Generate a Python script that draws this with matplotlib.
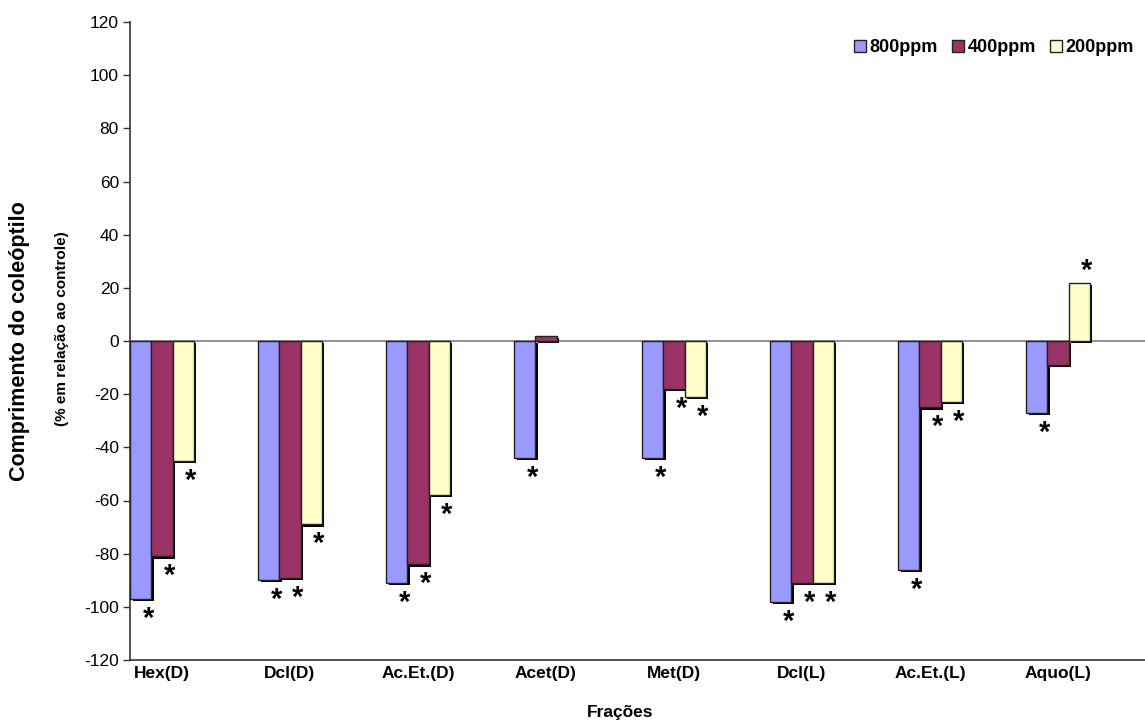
import matplotlib
matplotlib.use("Agg")
import matplotlib.pyplot as plt
import matplotlib.patheffects as pe
import numpy as np

categories = ["Hex(D)", "Dcl(D)", "Ac.Et.(D)", "Acet(D)", "Met(D)", "Dcl(L)", "Ac.Et.(L)", "Aquo(L)"]
series_names = ["800ppm", "400ppm", "200ppm"]
v800 = [-97, -90, -91, -44, -44, -98, -86, -27]
v400 = [-81, -89, -84, 2, -18, -91, -25, -9]
v200 = [-45, -69, -58, None, -21, -91, -23, 22]
sig800 = [1, 1, 1, 1, 1, 1, 1, 1]
sig400 = [1, 1, 1, 0, 1, 1, 1, 0]
sig200 = [1, 1, 1, 0, 1, 1, 1, 1]
yticks = list(range(-120, 121, 20))

colors = ["#9999FF", "#993366", "#FFFFCC"]

plt.rcParams['font.family'] = ['Liberation Sans', 'DejaVu Sans']

fig = plt.figure(figsize=(11.45, 7.22), dpi=100)
ax = fig.add_axes([130/1145, 1-660/722, 1-130/1145, (660-22)/722])

x = np.arange(len(categories))
w = 0.165
shadow = [pe.SimplePatchShadow(offset=(1.6, -1.6), shadow_rgbFace='black', alpha=1.0), pe.Normal()]
allvals = [v800, v400, v200]
allsig = [sig800, sig400, sig200]
for i, (vals, sig) in enumerate(zip(allvals, allsig)):
    xs = x + (i - 1) * w
    h = [np.nan if v is None else v for v in vals]
    bars = ax.bar(xs, h, width=w, color=colors[i], edgecolor="#222222", linewidth=1.0,
                  label=series_names[i], zorder=3)
    for b in bars:
        b.set_path_effects(shadow)
    for xx, v, s in zip(xs, vals, sig):
        if s and v is not None:
            yy = v - 7.5 if v < 0 else v + 4.5
            ax.text(xx + 0.06, yy, "*", ha="center", va="center", fontsize=21,
                    fontweight="bold", zorder=4)

ax.axhline(0, color="#808080", linewidth=1.2, zorder=2)
ax.set_xlim(-0.25, 7.68)
ax.set_ylim(-120, 120)
ax.set_yticks(yticks)
ax.set_yticklabels([str(t) for t in yticks], fontsize=12.5)
ax.set_xticks(x)
ax.set_xticklabels(categories, fontsize=12.5, fontweight="bold")
ax.tick_params(axis="x", length=0, pad=4)
ax.tick_params(axis="y", direction="out", length=5, width=1, color="#333333", pad=3)
for s in ["top", "right"]:
    ax.spines[s].set_visible(False)
for s in ["left", "bottom"]:
    ax.spines[s].set_color("#333333")
    ax.spines[s].set_linewidth(1.2)

fig.text(20/1145, 1-341/722, "Comprimento do coleóptilo", rotation=90, ha="center", va="center",
         fontsize=15.5, fontweight="bold")
fig.text(62/1145, 1-329/722, "(% em relação ao controle)", rotation=90, ha="center", va="center",
         fontsize=11, fontweight="bold")
fig.text(620/1145, 1-713/722, "Frações", ha="center", va="center", fontsize=12.5, fontweight="bold")

leg = ax.legend(loc="upper right", bbox_to_anchor=(1.0, 0.99), ncol=3, frameon=False,
                prop={"size": 13, "weight": "bold"}, handlelength=0.65, handleheight=0.65,
                handletextpad=0.2, columnspacing=0.8, borderaxespad=0.2)
for hnd in leg.legend_handles:
    hnd.set_path_effects([])
    hnd.set_edgecolor("#222222")

fig.savefig("out.png", dpi=100, facecolor="white")
